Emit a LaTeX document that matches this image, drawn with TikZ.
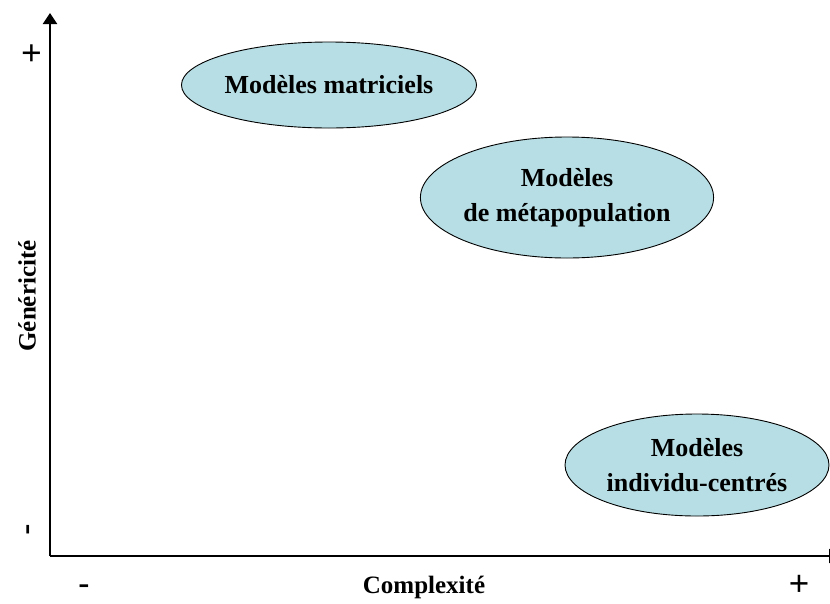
\documentclass[tikz,border=0pt]{standalone}
\usepackage{fontspec}
\setmainfont{Liberation Serif}
\newfontfamily\pmfont{Liberation Sans}
\usetikzlibrary{arrows.meta,shapes.geometric}
\definecolor{ellfill}{RGB}{183,222,228}
\tikzset{
  axis/.style={line width=2.2pt,-{Triangle[width=14pt,length=11pt]}},
  model/.style={ellipse,draw=black,line width=0.9pt,fill=ellfill,inner sep=0pt,align=center,
    font=\bfseries\fontsize{26}{35}\selectfont},
  axlabel/.style={font=\bfseries\fontsize{25}{30}\selectfont,inner sep=0pt},
  pm/.style={font=\pmfont\fontsize{35}{35}\selectfont,inner sep=0pt},
  pmb/.style={pm,anchor=base,text depth=0pt,text height=0.6em}
}
\begin{document}
\begin{tikzpicture}[x=1pt,y=-1pt]
\useasboundingbox (0,0) rectangle (830,603);
\coordinate (O) at (50,556);
\coordinate (Ytip) at (50,13);
\coordinate (Xtip) at (840,556);
\draw[axis] (O) -- (Ytip);
\draw[axis] (O) -- (Xtip);
\node[model,minimum width=282pt,minimum height=86pt] (mat) at (329,85) {Modèles matriciels};
\node[model,minimum width=284pt,minimum height=121pt] (meta) at (567,197.5) {Modèles\\de métapopulation};
\node[model,minimum width=264pt,minimum height=102pt] (ibm) at (697,465) {Modèles\\individu-centrés};
\node[axlabel,rotate=90] (ylab) at (27,296) {Généricité};
\node[axlabel] (xlab) at (424,587) {Complexité};
\node[pm,rotate=90] (yplus) at (33,53) {+};
\node[pm,rotate=90] (yminus) at (32,530) {-};
\node[pmb] (xminus) at (84,595.5) {-};
\node[pmb] (xplus) at (799,595.5) {+};
\end{tikzpicture}
\end{document}
